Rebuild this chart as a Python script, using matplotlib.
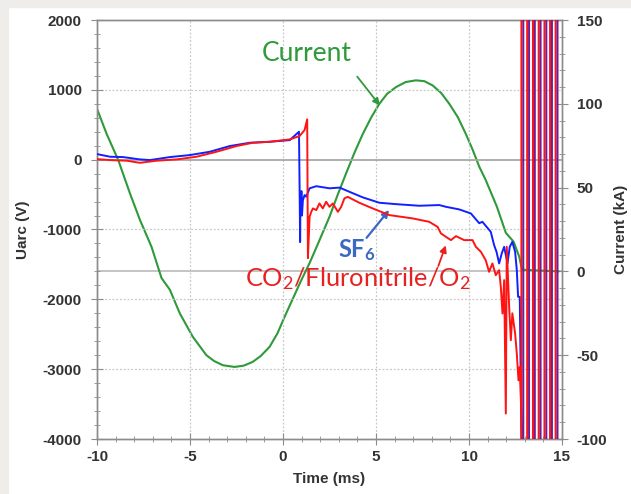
import matplotlib
matplotlib.use("Agg")
import matplotlib.pyplot as plt
from matplotlib.patches import Rectangle
from matplotlib.ticker import MultipleLocator

plt.rcParams["font.family"] = ["Liberation Sans", "DejaVu Sans"]
plt.rcParams["mathtext.default"] = "regular"
plt.rcParams["axes.unicode_minus"] = False

# ── data ────────────────────────────────────────────────────────────

# arc current (kA), right axis
t_cur = [-10, -9.48, -8.86, -8.23, -7.69, -7.07, -6.53, -6.08, -5.55, -4.85,
         -4.12, -3.7, -3.23, -2.6, -2.1, -1.63, -1.2, -0.72, -0.3, 0.09, 0.5,
         0.95, 1.43, 1.9, 2.5, 2.95, 3.4, 3.85, 4.29, 4.75, 5.18, 5.6, 6.08,
         6.6, 7.15, 7.6, 8.04, 8.5, 8.94, 9.4, 9.83, 10.2, 10.55, 10.9, 11.5,
         11.98, 12.4, 12.7, 12.85, 14.8]
i_cur = [97, 82, 66.5, 46.6, 30.7, 14.7, -4, -11, -25, -39,
         -50, -53.5, -56, -57, -56.2, -54, -50.5, -45, -37, -27, -17,
         -6, 5, 17, 32.6, 46, 58.7, 71, 82, 92, 100, 106, 110,
         113, 114, 113.5, 111, 106.5, 100, 92, 82, 72.5, 62.5, 54.5, 38.6,
         23, 17.7, 8.8, 1, 0]

# SF6 arc voltage (V)
t_sf6 = [-10, -9.3, -8.6, -7.7, -7.15, -6.08, -5.0, -3.94, -2.86, -1.79,
         -0.72, 0.36, 0.86, 0.88, 0.9, 0.92, 0.94, 0.96, 0.99, 1.02, 1.07,
         1.16, 1.25, 1.43, 1.79, 2.5, 3.04, 3.57, 4.29, 5.18, 6.08, 7.33,
         8.4, 8.76, 9.47, 10.1, 10.55, 10.72, 11.17, 11.35, 11.48, 11.62,
         11.76, 11.89, 12.07, 12.19, 12.33, 12.48, 12.57, 12.64, 12.73, 12.82]
v_sf6 = [80, 42, 37, 4, -6, 37, 66, 113, 195, 242,
         256, 280, 400, -100, -600, -1180, -500, -700, -450, -800, -580,
         -507, -530, -410, -380, -410, -400, -460, -540, -617, -637, -660,
         -650, -675, -712, -770, -910, -890, -1033, -1224, -1320, -1486,
         -1343, -1248, -1486, -1248, -1177, -1320, -1582, -1964, -1964, -4000]

# CO2/Fluronitrile/O2 arc voltage (V)
t_co2 = [-10, -9.3, -8.4, -7.7, -6.8, -5.7, -4.65, -3.58, -2.5, -1.63,
         -0.72, 0.36, 0.89, 1.16, 1.30, 1.34, 1.43, 1.52, 1.61, 1.79, 1.96,
         2.14, 2.32, 2.5, 2.68, 2.95, 3.13, 3.30, 3.48, 4.11, 4.82, 5.72,
         6.97, 7.86, 8.31, 8.49, 8.76, 9.03, 9.30, 9.74, 10.19, 10.37,
         10.64, 10.9, 11.08, 11.26, 11.44, 11.62, 11.71, 11.8, 11.89, 11.98,
         12.03, 12.16, 12.25, 12.33, 12.48, 12.57, 12.66, 12.73, 12.86]
v_co2 = [8, -6, -15, -45, -15, 4, 42, 113, 195, 242,
         256, 290, 338, 424, 577, -1410, -818, -747, -698, -722, -627,
         -698, -603, -675, -627, -747, -675, -555, -532, -618, -698, -794,
         -841, -890, -962, -1056, -1105, -1152, -1095, -1152, -1152, -1248,
         -1320, -1440, -1606, -1486, -1654, -1582, -1821, -2203, -1725, -3636,
         -1248, -2108, -2585, -2200, -2490, -2777, -3160, -2968, -4000]

# full-scale oscillation after current zero (off scale, drawn as stripes)
t_stripes = [12.82, 13.13, 13.44, 13.75, 14.06, 14.36, 14.66]

GREEN = "#2e9a3a"
RED = "#ff1414"
BLUE = "#1020ff"
PURPLE = "#6a1f9a"
GRID = "#c8c8c8"
SPINE = "#8c8c8c"
TXT = "#333333"

fig = plt.figure(figsize=(6.31, 4.94), dpi=100)
fig.patch.set_facecolor("white")
# grey frame at the top and left of the original screenshot
fig.patches.append(Rectangle((0, 0), 8 / 631, 1, transform=fig.transFigure,
                             color="#eeede9", zorder=0))
fig.patches.append(Rectangle((0, 1 - 7 / 494), 1, 7 / 494, transform=fig.transFigure,
                             color="#eeede9", zorder=0))

ax = fig.add_axes([97 / 631, 55 / 494, 465 / 631, 419 / 494])
ax2 = ax.twinx()
ax.set_zorder(ax2.get_zorder() + 1)
ax.patch.set_visible(False)

ax.set_xlim(-10, 15)
ax.set_ylim(-4000, 2000)
ax2.set_ylim(-100, 150)

# grid + zero lines
for v in [1000, -1000, -2000, -3000]:
    ax.axhline(v, color=GRID, lw=0.9, ls=(0, (1.5, 1.5)), zorder=0)
for t in [-5, 0, 5, 10]:
    ax.axvline(t, color=GRID, lw=0.9, ls=(0, (1.5, 1.5)), zorder=0)
ax.axhline(0, color="#a8a8a8", lw=1.3, zorder=1)
ax2.axhline(0, color="#b4b4b4", lw=1.1, zorder=1)

ax2.plot(t_cur, i_cur, color=GREEN, lw=1.5, zorder=2)
ax.plot(t_sf6, v_sf6, color=BLUE, lw=1.4, zorder=3)
ax.plot(t_co2, v_co2, color=RED, lw=1.4, zorder=4)

# red/blue traces swinging full scale: red band with a purple band beside it
for t in t_stripes:
    ax.axvline(t, color=RED, lw=1.5, zorder=5, snap=False)
    ax.axvline(t + 0.1, color=PURPLE, lw=1.4, zorder=6, snap=False)

# ticks
for a in (ax, ax2):
    for s in a.spines.values():
        s.set_color(SPINE)
        s.set_linewidth(1.0)
ax.xaxis.set_major_locator(MultipleLocator(5))
ax.xaxis.set_minor_locator(MultipleLocator(1))
ax.yaxis.set_major_locator(MultipleLocator(1000))
ax.yaxis.set_minor_locator(MultipleLocator(200))
ax2.yaxis.set_major_locator(MultipleLocator(50))
ax2.yaxis.set_minor_locator(MultipleLocator(10))
ax.tick_params(which="major", direction="inout", length=8, color=SPINE,
               labelsize=11, pad=4)
ax.tick_params(which="minor", direction="inout", length=5, color=SPINE)
ax.tick_params(axis="y", pad=7)
ax2.tick_params(which="major", direction="inout", length=8, color=SPINE,
                labelsize=11, pad=6.5)
ax2.tick_params(which="minor", direction="inout", length=5, color=SPINE)
for lab in ax.get_xticklabels() + ax.get_yticklabels() + ax2.get_yticklabels():
    lab.set_fontweight("bold")
    lab.set_color(TXT)

ax.set_xlabel("Time (ms)", fontsize=11, fontweight="bold", color=TXT,
              labelpad=6)
ax.set_ylabel("Uarc (V)", fontsize=11, fontweight="bold", color=TXT,
              labelpad=9)
ax2.set_ylabel("Current (kA)", fontsize=11, fontweight="bold", color=TXT,
               labelpad=5)

# annotations
ax.text(-1.15, 1520, "Current", color=GREEN, fontsize=19, family="Lato",
        ha="left", va="center")
ax.annotate("", xy=(5.3, 745), xytext=(3.9, 1220),
            arrowprops=dict(arrowstyle="-|>", color=GREEN, lw=1.3,
                            mutation_scale=10))
ax.text(2.95, -1290, "SF$_6$", color="#3a68c4", fontsize=17, family="Lato",
        fontweight="bold", ha="left", va="center")
ax.annotate("", xy=(5.8, -690), xytext=(4.4, -1150),
            arrowprops=dict(arrowstyle="-|>", color="#3a68c4", lw=1.6,
                            mutation_scale=10))
ax.text(4.0, -1700, "CO$_2$/Fluronitrile/O$_2$", color="#e82020", fontsize=18.3,
        family="Lato", ha="center", va="center")
ax.annotate("", xy=(8.8, -1190), xytext=(8.3, -1560),
            arrowprops=dict(arrowstyle="-|>", color="#e82020", lw=1.3,
                            mutation_scale=10))

fig.savefig("out.png", dpi=100)
